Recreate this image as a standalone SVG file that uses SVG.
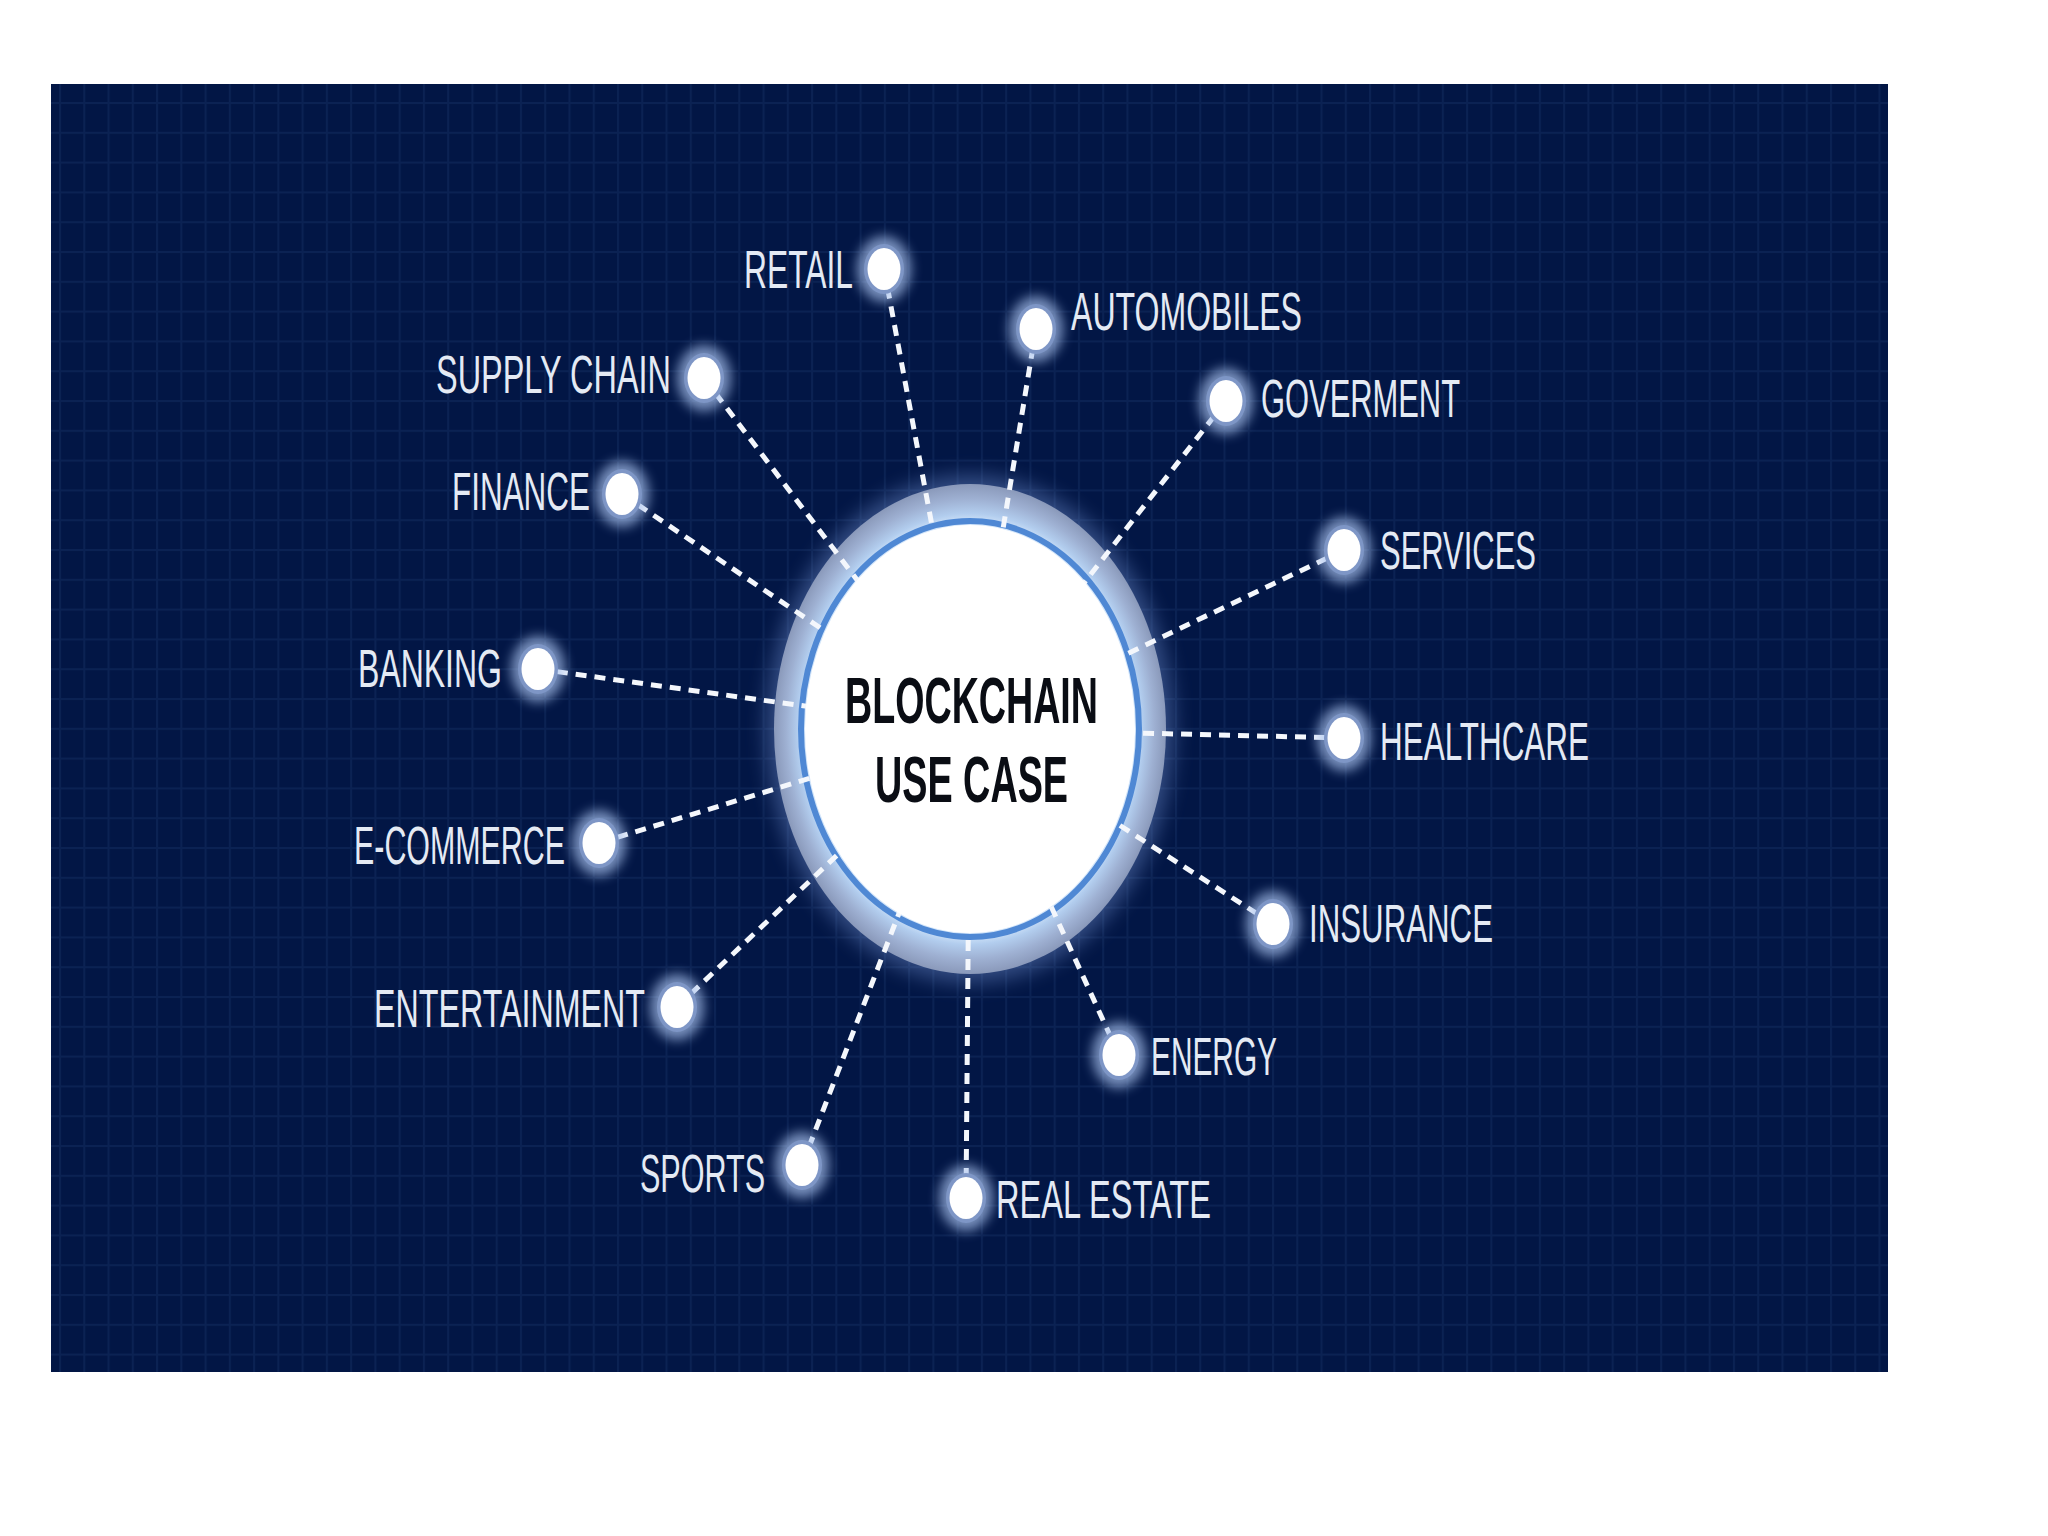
<svg xmlns="http://www.w3.org/2000/svg" width="2048" height="1536" viewBox="0 0 2048 1536">
<style>
.lbl{font-family:"Liberation Sans","Arial",sans-serif;font-size:54px;fill:#e4eaf4;}
.ctr{font-family:"Liberation Sans","Arial",sans-serif;font-size:64px;font-weight:bold;fill:#0a0d14;}
.conn{stroke:#f4f7fc;stroke-width:5;stroke-dasharray:11 8;fill:none;}
</style>
<defs>
<pattern id="grid" patternUnits="userSpaceOnUse" x="59" y="102" width="24.26" height="29.8">
<rect x="0" y="0" width="2" height="29.8" fill="#0b2253"/>
<rect x="0" y="0" width="24.26" height="2" fill="#0b2253"/>
</pattern>
<radialGradient id="ringGrad" cx="0.5" cy="0.5" r="0.5">
<stop offset="0.84" stop-color="#d4e6fa"/>
<stop offset="0.88" stop-color="#b2cdee"/>
<stop offset="0.94" stop-color="#9eb0d2"/>
<stop offset="1" stop-color="#8a99ba"/>
</radialGradient>
<filter id="glow" x="-50%" y="-50%" width="200%" height="200%">
<feGaussianBlur stdDeviation="6"/>
</filter>
<filter id="bigglow" x="-20%" y="-20%" width="140%" height="140%">
<feGaussianBlur stdDeviation="10"/>
</filter>
<g id="dot">
<ellipse cx="0" cy="0" rx="27" ry="33" fill="#a9c2ee" opacity="0.7" filter="url(#glow)"/>
<ellipse cx="0" cy="0" rx="20" ry="25" fill="#7e96c6"/>
<ellipse cx="0" cy="0" rx="16.5" ry="21" fill="#ffffff"/>
</g>
</defs>

<rect x="0" y="0" width="2048" height="1536" fill="#ffffff"/>
<rect x="51" y="84" width="1837" height="1288" fill="#021645"/>
<rect x="51" y="84" width="1837" height="1288" fill="url(#grid)"/>

<g id="hub-back">
<ellipse cx="970" cy="729" rx="204" ry="254" fill="#6f90d0" opacity="0.45" filter="url(#bigglow)"/>
<ellipse cx="970" cy="729" rx="196" ry="245" fill="url(#ringGrad)"/>
<ellipse cx="970" cy="729" rx="169" ry="208" fill="none" stroke="#4f88d4" stroke-width="6"/>
</g>

<g id="connectors">
<line class="conn" x1="884" y1="269" x2="970" y2="729"/>
<line class="conn" x1="1036" y1="329" x2="970" y2="729"/>
<line class="conn" x1="1226" y1="401" x2="970" y2="729"/>
<line class="conn" x1="1344" y1="550" x2="970" y2="729"/>
<line class="conn" x1="1344" y1="738" x2="970" y2="729"/>
<line class="conn" x1="1273" y1="924" x2="970" y2="729"/>
<line class="conn" x1="1119" y1="1055" x2="970" y2="729"/>
<line class="conn" x1="966" y1="1198" x2="970" y2="729"/>
<line class="conn" x1="802" y1="1165" x2="970" y2="729"/>
<line class="conn" x1="677" y1="1007" x2="970" y2="729"/>
<line class="conn" x1="599" y1="843" x2="970" y2="729"/>
<line class="conn" x1="538" y1="669" x2="970" y2="729"/>
<line class="conn" x1="622" y1="494" x2="970" y2="729"/>
<line class="conn" x1="704" y1="378" x2="970" y2="729"/>
</g>

<g id="hub">
<ellipse cx="970" cy="729" rx="165" ry="204" fill="#ffffff"/>
<text class="ctr" x="845" y="723" textLength="253" lengthAdjust="spacingAndGlyphs">BLOCKCHAIN</text>
<text class="ctr" x="875" y="802" textLength="193" lengthAdjust="spacingAndGlyphs">USE CASE</text>
</g>

<g id="retail"><use href="#dot" x="884" y="269"/><text class="lbl" x="744" y="288" textLength="109" lengthAdjust="spacingAndGlyphs">RETAIL</text></g>
<g id="automobiles"><use href="#dot" x="1036" y="329"/><text class="lbl" x="1071" y="330" textLength="231" lengthAdjust="spacingAndGlyphs">AUTOMOBILES</text></g>
<g id="goverment"><use href="#dot" x="1226" y="401"/><text class="lbl" x="1261" y="417" textLength="199" lengthAdjust="spacingAndGlyphs">GOVERMENT</text></g>
<g id="services"><use href="#dot" x="1344" y="550"/><text class="lbl" x="1380" y="569" textLength="156" lengthAdjust="spacingAndGlyphs">SERVICES</text></g>
<g id="healthcare"><use href="#dot" x="1344" y="738"/><text class="lbl" x="1380" y="760" textLength="209" lengthAdjust="spacingAndGlyphs">HEALTHCARE</text></g>
<g id="insurance"><use href="#dot" x="1273" y="924"/><text class="lbl" x="1309" y="942" textLength="184" lengthAdjust="spacingAndGlyphs">INSURANCE</text></g>
<g id="energy"><use href="#dot" x="1119" y="1055"/><text class="lbl" x="1151" y="1075" textLength="126" lengthAdjust="spacingAndGlyphs">ENERGY</text></g>
<g id="real-estate"><use href="#dot" x="966" y="1198"/><text class="lbl" x="996" y="1218" textLength="215" lengthAdjust="spacingAndGlyphs">REAL ESTATE</text></g>
<g id="sports"><use href="#dot" x="802" y="1165"/><text class="lbl" x="640" y="1192" textLength="125" lengthAdjust="spacingAndGlyphs">SPORTS</text></g>
<g id="entertainment"><use href="#dot" x="677" y="1007"/><text class="lbl" x="374" y="1027" textLength="271" lengthAdjust="spacingAndGlyphs">ENTERTAINMENT</text></g>
<g id="e-commerce"><use href="#dot" x="599" y="843"/><text class="lbl" x="354" y="864" textLength="211" lengthAdjust="spacingAndGlyphs">E-COMMERCE</text></g>
<g id="banking"><use href="#dot" x="538" y="669"/><text class="lbl" x="358" y="687" textLength="144" lengthAdjust="spacingAndGlyphs">BANKING</text></g>
<g id="finance"><use href="#dot" x="622" y="494"/><text class="lbl" x="452" y="510" textLength="138" lengthAdjust="spacingAndGlyphs">FINANCE</text></g>
<g id="supply-chain"><use href="#dot" x="704" y="378"/><text class="lbl" x="436" y="393" textLength="235" lengthAdjust="spacingAndGlyphs">SUPPLY CHAIN</text></g>
</svg>
